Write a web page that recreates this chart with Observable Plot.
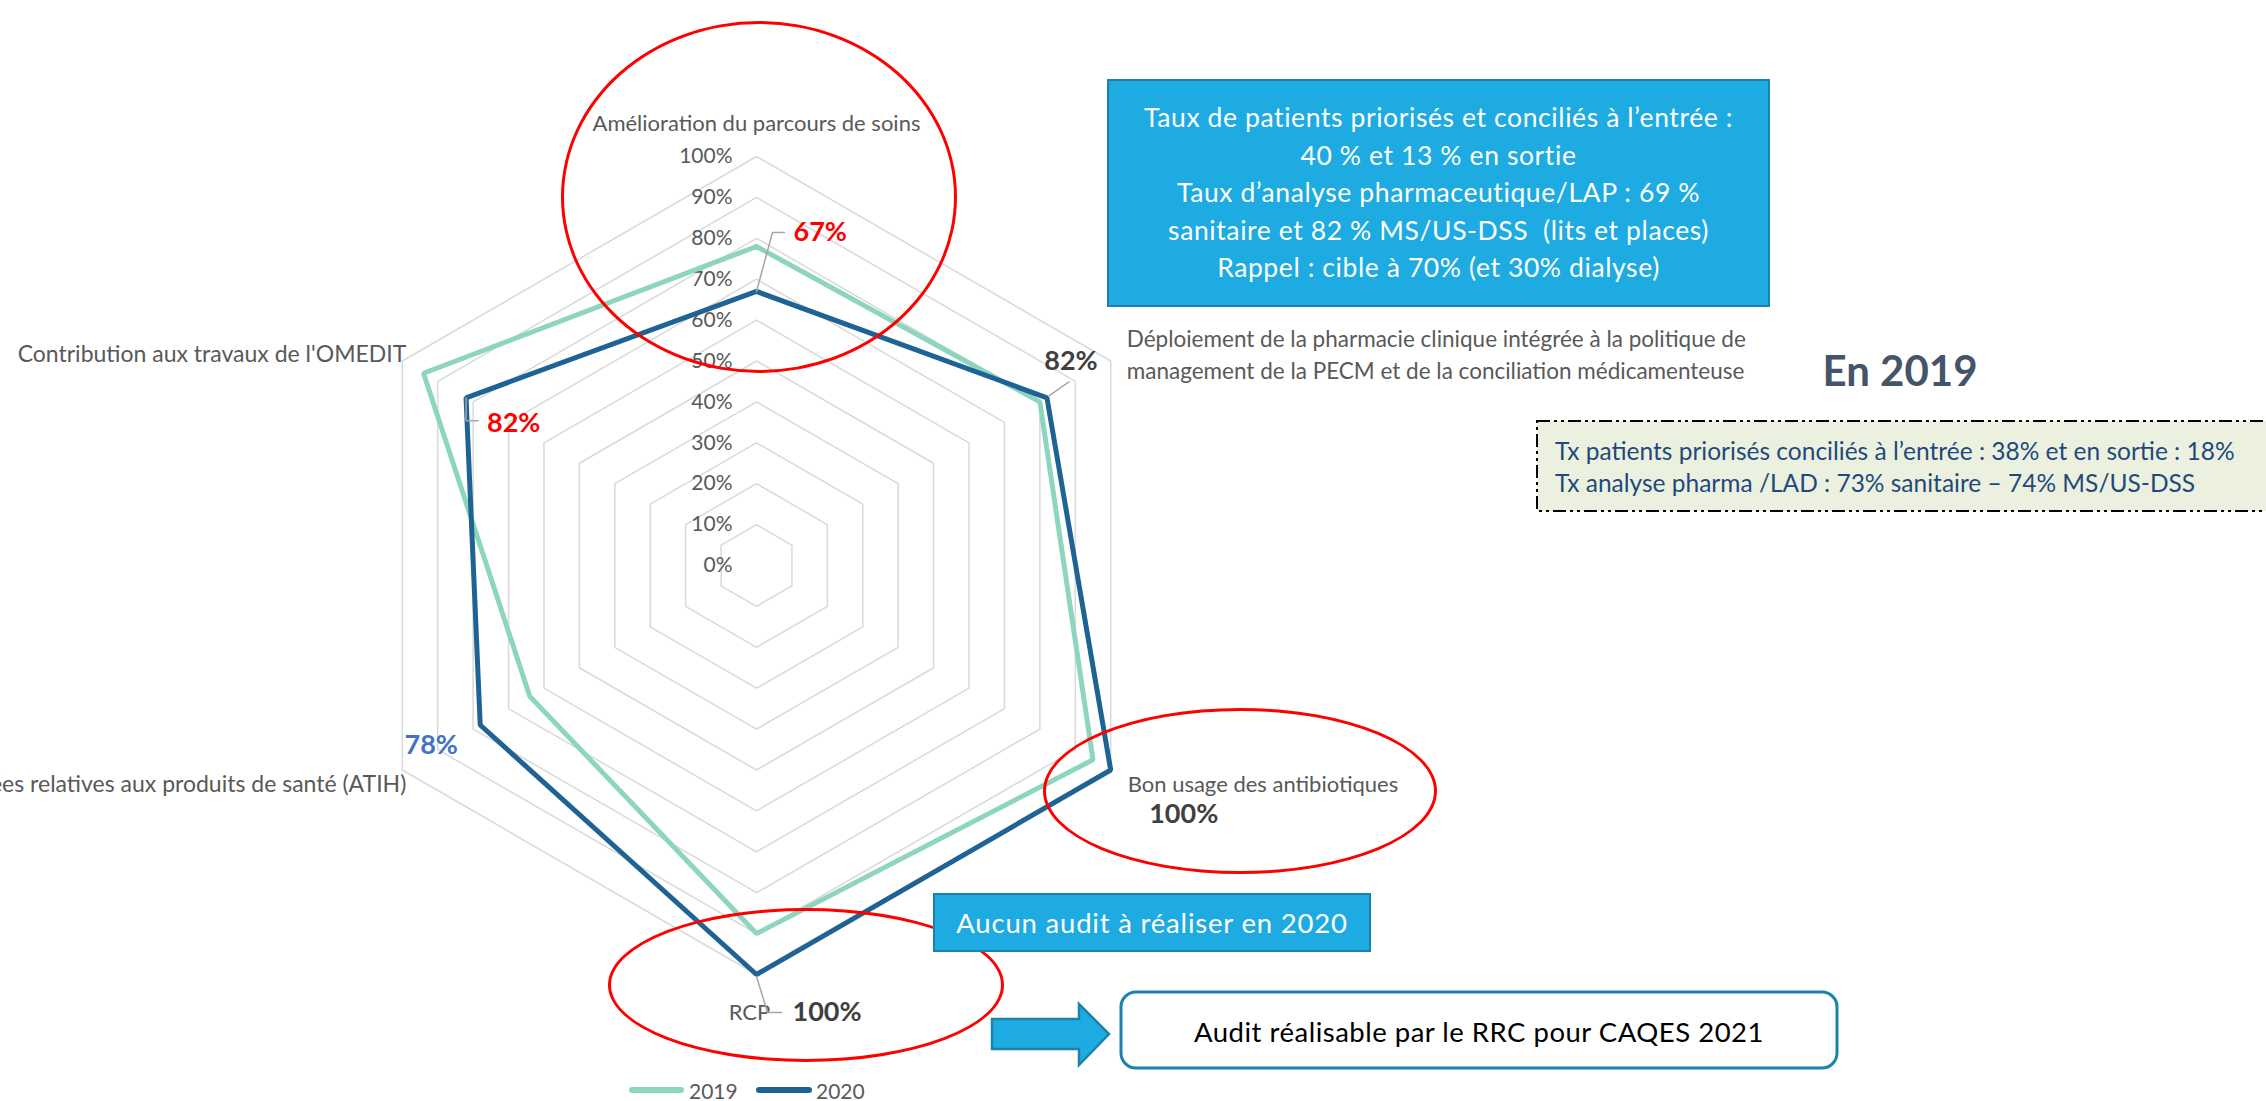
<!DOCTYPE html>
<html><head><meta charset="utf-8">
<script src="https://cdn.jsdelivr.net/npm/d3@7"></script>
<script src="https://cdn.jsdelivr.net/npm/@observablehq/plot@0.6"></script>
<style>
html,body{margin:0;padding:0;background:#fff;overflow:hidden}
#wrap{position:relative;width:2266px;height:1101px;overflow:hidden;font-family:Lato,sans-serif}
#wrap svg{display:block}
.ov{position:absolute;box-sizing:border-box}
.ell{border:3px solid #FF0000;border-radius:50%}
.bluebox{background:#1DABE2;border:2px solid #1B82AC;color:#fff;text-align:center;display:flex;flex-direction:column;justify-content:center;font-family:Lato,sans-serif;white-space:nowrap}
</style></head><body><div id="wrap"></div>
<script>
// ---- data ----
const categories = [
  "Amélioration du parcours de soins",
  "Déploiement de la pharmacie clinique intégrée à la politique de\nmanagement de la PECM et de la conciliation médicamenteuse",
  "Bon usage des antibiotiques",
  "RCP",
  "Transmission des données relatives aux produits de santé (ATIH)",
  "Contribution aux travaux de l'OMEDIT"
];
const values2019 = [0.78, 0.80, 0.95, 0.90, 0.64, 0.94];
const values2020 = [0.67, 0.82, 1.00, 1.00, 0.78, 0.82];
const seriesNames = ["2019", "2020"];
const tickValues = [0, 0.1, 0.2, 0.3, 0.4, 0.5, 0.6, 0.7, 0.8, 0.9, 1.0];
const tickLabels = ["0%", "10%", "20%", "30%", "40%", "50%", "60%", "70%", "80%", "90%", "100%"];

// ---- layout ----
const W = 2266, H = 1101;
const cx = 756, cy = 565, R = 409;
const colors = {"2019": "#8ED5C0", "2020": "#1F6394"};
const n = categories.length;
const angles = categories.map((_, i) => i * 2 * Math.PI / n);
const px = (v, i) => v * Math.sin(angles[i]);
const py = (v, i) => v * Math.cos(angles[i]);
const fmt = v => `${Math.round(v * 100)}%`;

const ringData = tickValues.filter(t => t > 0).flatMap(t =>
  d3.range(n + 1).map(k => ({t, i: k % n})));
const seriesData = seriesNames.flatMap((s, si) => {
  const vals = si === 0 ? values2019 : values2020;
  return d3.range(n + 1).map(k => ({series: s, i: k % n, v: vals[k % n]}));
});

const catLabel = (i, o) => Plot.text([i], {
  x: d => px(1, d), y: d => py(1, d), text: d => categories[d],
  fontSize: 22, fill: "#595959", lineHeight: 1.41, ...o
});
const valLabel = (i, o) => Plot.text([i], {
  x: d => px(values2020[d], d), y: d => py(values2020[d], d), text: d => fmt(values2020[d]),
  fontSize: 27, fontWeight: "bold", ...o
});
const leader = (i, pts) => Plot.line(pts, {
  x: p => px(values2020[i], i) + p[0] / R,
  y: p => py(values2020[i], i) - p[1] / R,
  stroke: "#A6A6A6", strokeWidth: 1.5
});

const chart = Plot.plot({
  width: W, height: H, margin: 0,
  style: {fontFamily: "Lato, sans-serif", background: "transparent"},
  x: {domain: [-cx / R, (W - cx) / R], range: [0, W]},
  y: {domain: [-(H - cy) / R, cy / R], range: [H, 0]},
  axis: null,
  marks: [
    Plot.line(ringData, {x: d => px(d.t, d.i), y: d => py(d.t, d.i), z: "t", stroke: "#D9D9D9", strokeWidth: 1.5}),
    Plot.text(tickValues, {x: 0, y: d => d, text: (d, k) => tickLabels[k], textAnchor: "end", dx: -24, fontSize: 21, fill: "#595959"}),
    Plot.line(seriesData, {x: d => px(d.v, d.i), y: d => py(d.v, d.i), z: "series", stroke: d => colors[d.series], strokeWidth: 5, strokeLinejoin: "miter"}),
    catLabel(0, {dy: -35, textAnchor: "middle"}),
    catLabel(1, {dx: 16, dy: -8, textAnchor: "start", fontSize: 22.5}),
    catLabel(2, {dx: 17, dy: 12, textAnchor: "start"}),
    catLabel(3, {dy: 36, textAnchor: "middle", dx: -7}),
    catLabel(4, {dx: 4, dy: 12, textAnchor: "end", fontSize: 23}),
    catLabel(5, {dx: 4, dy: -9, textAnchor: "end", fontSize: 23}),
    leader(0, [[0, 0], [16, -59], [28, -59]]),
    leader(1, [[2, -2], [22, -16]]),
    leader(3, [[0, 2], [11, 38], [25, 38]]),
    leader(5, [[0, 0], [0, 23], [12, 23]]),
    valLabel(0, {dx: 37, dy: -59, textAnchor: "start", fill: "#FF0000"}),
    valLabel(1, {dx: 24, dy: -36, textAnchor: "middle", fill: "#404040"}),
    valLabel(2, {dx: 73, dy: 44, textAnchor: "middle", fill: "#404040"}),
    valLabel(3, {dx: 36, dy: 38, textAnchor: "start", fill: "#404040"}),
    valLabel(4, {dx: -49, dy: 20, textAnchor: "middle", fill: "#4472C4"}),
    valLabel(5, {dx: 21, dy: 26, textAnchor: "start", fill: "#FF0000"})
  ]
});

const wrap = document.getElementById("wrap");
wrap.appendChild(chart);

function add(html) { wrap.insertAdjacentHTML("beforeend", html); }

// red ellipses
add(`<div class="ov ell" style="left:561px;top:21px;width:396px;height:352px"></div>`);
add(`<div class="ov ell" style="left:1043px;top:708px;width:394px;height:166px"></div>`);
add(`<div class="ov ell" style="left:608px;top:908px;width:396px;height:154px"></div>`);

// blue info box
add(`<div class="ov bluebox" style="left:1107px;top:79px;width:663px;height:228px;font-size:26.5px;letter-spacing:0.6px;line-height:37.5px">
<div>Taux de patients priorisés et conciliés à l’entrée :</div>
<div>40 % et 13 % en sortie</div>
<div>Taux d’analyse pharmaceutique/LAP : 69 %</div>
<div>sanitaire et 82 % MS/US-DSS&nbsp; (lits et places)</div>
<div>Rappel : cible à 70% (et 30% dialyse)</div></div>`);

// Aucun audit box
add(`<div class="ov bluebox" style="left:933px;top:893px;width:438px;height:59px;font-size:27.5px;letter-spacing:0.8px">Aucun audit à réaliser en 2020</div>`);

// arrow + rounded box + 2019 notes + legend
add(`<svg class="ov" style="left:0;top:0" width="2266" height="1101" pointer-events="none">
<polygon points="992,1019 1079,1019 1079,1004 1109,1034 1079,1065 1079,1049 992,1049" fill="#1DABE2" stroke="#1B82AC" stroke-width="2.5" stroke-linejoin="miter"/>
<rect x="1121" y="992" width="716" height="76" rx="15" ry="15" fill="#fff" stroke="#1B82AC" stroke-width="3"/>
<text x="1479" y="1031" text-anchor="middle" dominant-baseline="central" font-family="Lato, sans-serif" font-size="27.5" letter-spacing="0.5" fill="#000">Audit réalisable par le RRC pour CAQES 2021</text>
<rect x="1537" y="421" width="760" height="90" fill="#EBF1DE" stroke="#000" stroke-width="2" stroke-dasharray="13 4 3 4 3 4"/>
<text x="1555" y="450" dominant-baseline="central" font-family="Lato, sans-serif" font-size="24.5" fill="#1F497D">Tx patients priorisés conciliés à l’entrée : 38% et en sortie : 18%</text>
<text x="1555" y="482" dominant-baseline="central" font-family="Lato, sans-serif" font-size="24.5" fill="#1F497D">Tx analyse pharma /LAD : 73% sanitaire – 74% MS/US-DSS</text>
<text x="1900" y="370" text-anchor="middle" dominant-baseline="central" font-family="Lato, sans-serif" font-weight="bold" font-size="42" fill="#44546A">En 2019</text>
<line x1="632" y1="1090" x2="681" y2="1090" stroke="${colors['2019']}" stroke-width="6" stroke-linecap="round"/>
<text x="689" y="1090" dominant-baseline="central" font-family="Lato, sans-serif" font-size="21" fill="#595959">${seriesNames[0]}</text>
<line x1="759" y1="1090" x2="809" y2="1090" stroke="${colors['2020']}" stroke-width="6" stroke-linecap="round"/>
<text x="816" y="1090" dominant-baseline="central" font-family="Lato, sans-serif" font-size="21" fill="#595959">${seriesNames[1]}</text>
</svg>`);
</script></body></html>
